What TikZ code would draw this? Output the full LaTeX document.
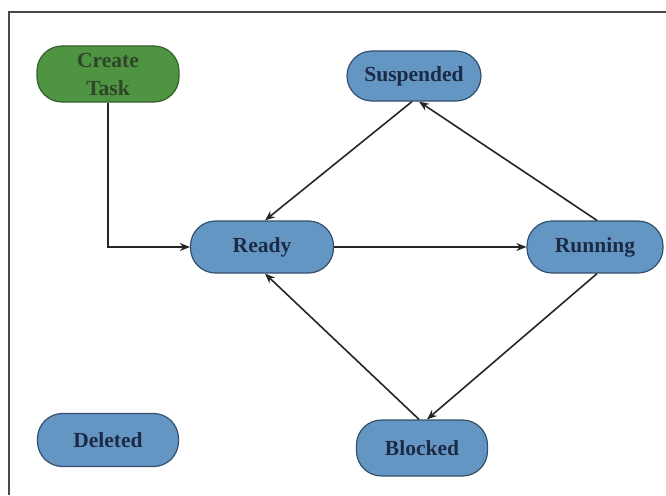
\documentclass[tikz,border=0pt]{standalone}
\usepackage{fontspec}
\setmainfont{Liberation Serif}
\usetikzlibrary{arrows.meta}
\definecolor{stateblue}{HTML}{6496C4}
\definecolor{stateedge}{HTML}{34506C}
\definecolor{statetext}{HTML}{1B2B45}
\definecolor{creategreen}{HTML}{4F9440}
\definecolor{createedge}{HTML}{35602C}
\definecolor{createtext}{HTML}{2E442B}
\definecolor{framegray}{HTML}{4A4A4A}
\begin{document}
\begin{tikzpicture}[x=1pt,y=-1pt,
  state/.style={draw=stateedge, line width=1.2pt, fill=stateblue,
    rounded corners=25pt, minimum height=52pt, inner sep=0pt,
    text=statetext, font=\fontsize{21.5}{22}\selectfont\bfseries, align=center},
  startstate/.style={state, fill=creategreen, draw=createedge, text=createtext},
  trans/.style={draw=black!85, line width=1.6pt,
    -{Stealth[length=10pt,width=8pt]}}]
  \useasboundingbox (0,0) rectangle (666,495);
  % outer frame (only its top and left edges lie inside the picture)
  \draw[framegray, line width=1.6pt] (666,12) -- (9,12) -- (9,495);

  % states
  \node[startstate, minimum width=142pt, minimum height=56pt,
        font=\fontsize{21.5}{28}\selectfont\bfseries] (create) at (108,74) {Create\\Task};
  \node[state, minimum width=134pt, minimum height=50pt] (susp) at (414,76) {Suspended};
  \node[state, minimum width=143pt] (ready) at (262,247) {Ready};
  \node[state, minimum width=136pt] (run) at (595,247) {Running};
  \node[state, minimum width=141pt, minimum height=53pt] (del) at (108,440) {Deleted};
  \node[state, minimum width=131pt, minimum height=56pt] (block) at (422,448) {Blocked};

  % transitions
  \draw[trans] (create.south) |- (ready.west);
  \draw[trans] (ready.east) -- (run.west);
  \draw[trans] ([xshift=-2pt]susp.south) -- ([xshift=3pt]ready.north);
  \draw[trans] ([xshift=2pt]run.north) -- ([xshift=5pt]susp.south);
  \draw[trans] ([xshift=2pt]run.south) -- ([xshift=5pt]block.north);
  \draw[trans] ([xshift=-3pt]block.north) -- ([xshift=3pt]ready.south);
\end{tikzpicture}
\end{document}
